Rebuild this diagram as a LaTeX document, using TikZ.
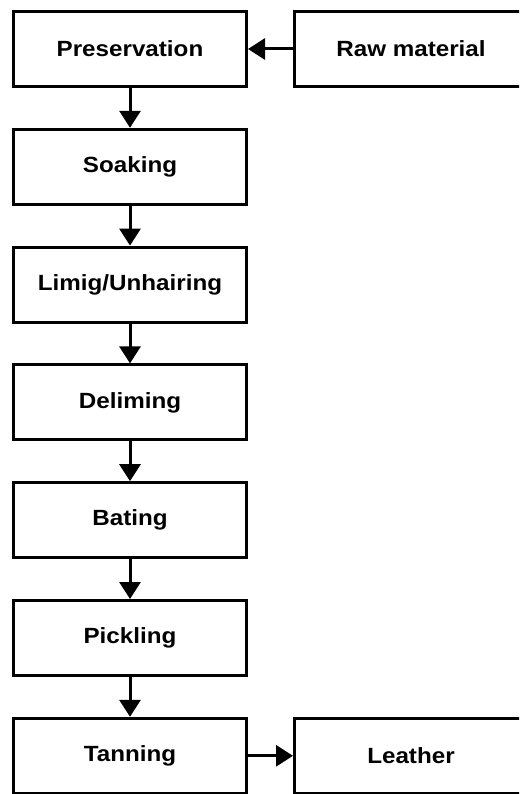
\documentclass[tikz,border=0pt]{standalone}
\usepackage{fontspec}
\setmainfont{Liberation Sans}
\usepackage{graphicx}
\usepackage{tikz}
\usetikzlibrary{arrows.meta}

\newcommand{\wtxt}[1]{\scalebox{1.1}[1]{#1}}

\begin{document}
\begin{tikzpicture}[x=1pt,y=-1pt,
    box/.style={draw=black,line width=3pt,rectangle,minimum width=233pt,minimum height=75pt,
        inner sep=0pt,font=\fontsize{22}{26}\selectfont\bfseries}]
\clip (0,0) rectangle (519,794);
%\tikzstyle{box}=[draw,thick,minimum width=6cm]
\begin{scope}
    \node[box] (a) at (130,49) {\wtxt{Preservation}};
    \node[box] (b) at (411,49) {\wtxt{Raw material}};
    \node[box] (c) at (130,166.8) {\wtxt{Soaking}};
    \node[box] (d) at (130,284.6) {\wtxt{Limig/Unhairing}};
    \node[box] (e) at (130,402.4) {\wtxt{Deliming}};
    \node[box] (f) at (130,520.2) {\wtxt{Bating}};
    \node[box] (g) at (130,638) {\wtxt{Pickling}};
    \node[box] (h) at (130,755.8) {\wtxt{Tanning}};
    \node[box] (i) at (411,755.8) {\wtxt{Leather}};
\end{scope}

\begin{scope}[>={Triangle[length=17pt,width=21pt]},every edge/.style={draw=black,line width=3pt}]
    \path [->] (b) edge (a);
    \path [->] (a) edge (c);
    \path [->] (c) edge (d);
    \path [->] (d) edge (e);
    \path [->] (e) edge (f);
    \path [->] (f) edge (g);
    \path [->] (g) edge (h);
    \path [->] (h) edge (i);
\end{scope}
\end{tikzpicture}
\end{document}
